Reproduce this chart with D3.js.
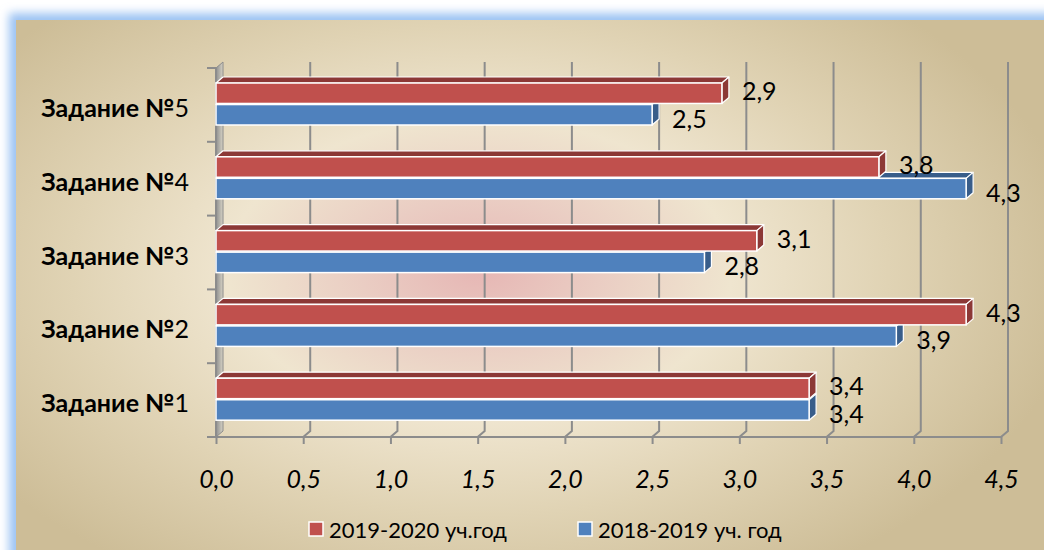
<!DOCTYPE html>
<html>
<head>
<meta charset="utf-8">
<script src="https://cdn.jsdelivr.net/npm/d3@7"></script>
<style>
  body { margin: 0; background: #fff; }
  svg text { font-family: Lato, "Noto Sans", sans-serif; fill: #000; }
</style>
</head>
<body>
<div id="chart"></div>
<script>
// Data
var categories = ["Задание №1", "Задание №2", "Задание №3", "Задание №4", "Задание №5"];
var seriesNames = ["2019-2020 уч.год", "2018-2019 уч. год"];
var values2020 = [3.4, 4.3, 3.1, 3.8, 2.9];
var values2019 = [3.4, 3.9, 2.8, 4.3, 2.5];
var xTicks = [0, 0.5, 1, 1.5, 2, 2.5, 3, 3.5, 4, 4.5];
var seriesColors = ["#c0504d", "#4f81bd"];
var seriesDark = ["#8c3836", "#385d8a"];

var svgWidth = 1044;
var svgHeight = 550;
var depthX = 7, depthY = 6;

var svg = d3.select("#chart")
  .append("svg")
  .attr("width", svgWidth)
  .attr("height", svgHeight);

var defs = svg.append("defs");

// Background gradient
var bg = defs.append("radialGradient")
  .attr("id", "bgGrad")
  .attr("gradientUnits", "userSpaceOnUse")
  .attr("cx", 480).attr("cy", 270).attr("r", 600)
  .attr("gradientTransform", "translate(480,270) scale(1,0.6) translate(-480,-270)");
[["0", "#e6b6b4"], ["0.2", "#eacdc3"], ["0.42", "#efe5cf"], ["0.68", "#e0d3b4"], ["1", "#cdbd97"]]
  .forEach(function(s) { bg.append("stop").attr("offset", s[0]).attr("stop-color", s[1]); });

var blur = defs.append("filter").attr("id", "glow")
  .attr("x", "-10%").attr("y", "-10%").attr("width", "120%").attr("height", "120%");
blur.append("feGaussianBlur").attr("stdDeviation", 5);

var wallGrad = defs.append("linearGradient").attr("id", "wallGrad")
  .attr("x1", 0).attr("x2", 1).attr("y1", 0).attr("y2", 0);
wallGrad.append("stop").attr("offset", 0).attr("stop-color", "#8f8f8f");
wallGrad.append("stop").attr("offset", 1).attr("stop-color", "#d6d2c4");

// Panel with blue glow
svg.append("rect")
  .attr("x", 9).attr("y", 13).attr("width", svgWidth).attr("height", svgHeight)
  .attr("fill", "#9cc3f3")
  .attr("filter", "url(#glow)");
svg.append("rect")
  .attr("x", 16).attr("y", 20).attr("width", svgWidth).attr("height", svgHeight)
  .attr("fill", "url(#bgGrad)");

// Scales
var xScale = d3.scaleLinear().domain([0, 4.5]).range([216, 1001]);
var yScale = d3.scaleBand()
  .domain(categories.slice().reverse())
  .range([68, 437]);
var inner = d3.scaleBand()
  .domain(seriesNames)
  .range([15, 57])
  .paddingInner(0.05);

var locale = d3.formatLocale({ decimal: ",", thousands: " ", grouping: [3], currency: ["", ""] });
var fmt = locale.format(".1f");

var y0 = yScale.range()[0], y1 = yScale.range()[1];

// Back wall gridlines and floor lines
var grid = svg.append("g");
grid.selectAll(".vgrid")
  .data(xTicks.slice(1))
  .enter()
  .append("polyline")
    .attr("points", function(d) {
      var x = xScale(d);
      return [[x + depthX, y0 - depthY], [x + depthX, y1 - depthY], [x, y1]].join(" ");
    })
    .attr("fill", "none")
    .attr("stroke", "#8c8c8c")
    .attr("stroke-width", 2);

// Left wall
svg.append("polygon")
  .attr("points", [[216, y0], [216 + depthX, y0 - depthY], [216 + depthX, y1 - depthY], [216, y1]].join(" "))
  .attr("fill", "url(#wallGrad)")
  .attr("stroke", "#8c8c8c")
  .attr("stroke-width", 1);

// Category ticks on the left
svg.append("g").selectAll("line")
  .data(categories.concat(["end"]))
  .enter()
  .append("line")
    .attr("x1", 207).attr("x2", 216)
    .attr("y1", function(d, i) { return i < categories.length ? yScale(categories[categories.length - 1 - i]) : y1; })
    .attr("y2", function(d, i) { return i < categories.length ? yScale(categories[categories.length - 1 - i]) : y1; })
    .attr("stroke", "#8c8c8c")
    .attr("stroke-width", 2);

// Bottom axis
var bottomAxis = d3.axisBottom(xScale)
  .tickValues(xTicks)
  .tickSize(7)
  .tickFormat(fmt);
var axisG = svg.append("g")
  .attr("transform", "translate(0," + y1 + ")")
  .call(bottomAxis);
axisG.select(".domain").attr("stroke", "#8c8c8c").attr("stroke-width", 2).attr("d", "M216,0H1001");
axisG.selectAll(".tick line").attr("stroke", "#8c8c8c").attr("stroke-width", 2);
axisG.selectAll(".tick text")
  .attr("y", 51)
  .attr("dy", 0)
  .style("font-size", "25px")
  .style("font-style", "italic")
  .style("font-family", "Lato, 'Noto Sans', sans-serif");

// Left axis line
svg.append("line")
  .attr("x1", 216).attr("x2", 216).attr("y1", y0).attr("y2", y1)
  .attr("stroke", "#8c8c8c").attr("stroke-width", 2);

// Bars, bottom to top so upper bars cover the top faces below
var bars = [];
categories.forEach(function(c, i) {
  bars.push({ cat: c, s: 1, v: values2019[i] });
  bars.push({ cat: c, s: 0, v: values2020[i] });
});

var barG = svg.append("g");
bars.forEach(function(b) {
  var top = yScale(b.cat) + inner(seriesNames[b.s]);
  var h = inner.bandwidth();
  var xl = xScale(0), xr = xScale(b.v);
  var g = barG.append("g");
  // top face
  g.append("polygon")
    .attr("points", [[xl, top], [xl + depthX, top - depthY], [xr + depthX, top - depthY], [xr, top]].join(" "))
    .attr("fill", seriesDark[b.s])
    .attr("stroke", "#fff").attr("stroke-width", 1.2).attr("stroke-linejoin", "round");
  // side face
  g.append("polygon")
    .attr("points", [[xr, top], [xr + depthX, top - depthY], [xr + depthX, top + h - depthY], [xr, top + h]].join(" "))
    .attr("fill", seriesDark[b.s])
    .attr("stroke", "#fff").attr("stroke-width", 1.2).attr("stroke-linejoin", "round");
  // front face
  g.append("rect")
    .attr("x", xl).attr("y", top)
    .attr("width", xr - xl).attr("height", h)
    .attr("fill", seriesColors[b.s])
    .attr("stroke", "#fff").attr("stroke-width", 1.5);
});

// Value labels
svg.append("g").selectAll("text")
  .data(bars)
  .enter()
  .append("text")
    .attr("x", function(d) { return xScale(d.v) + 20; })
    .attr("y", function(d) { return yScale(d.cat) + inner(seriesNames[d.s]) + inner.bandwidth() / 2 + (d.s === 0 ? -3 : 3); })
    .attr("dominant-baseline", "central")
    .style("font-size", "25px")
    .text(function(d) { return fmt(d.v); });

// Category labels
var catText = svg.append("g").selectAll("text")
  .data(categories)
  .enter()
  .append("text")
    .attr("x", 189)
    .attr("y", function(d) { return yScale(d) + yScale.bandwidth() / 2 + 2; })
    .attr("text-anchor", "end")
    .attr("dominant-baseline", "central")
    .style("font-size", "25px");
catText.append("tspan").style("font-weight", "bold").text(function(d) { return d.slice(0, -1); });
catText.append("tspan").text(function(d) { return d.slice(-1); });

// Legend
var legendX = [309, 578];
var legend = svg.append("g").selectAll("g")
  .data(seriesNames)
  .enter()
  .append("g")
    .attr("transform", function(d, i) { return "translate(" + legendX[i] + ",522)"; });
legend.append("rect")
  .attr("width", 14).attr("height", 14)
  .attr("fill", function(d, i) { return seriesColors[i]; })
  .attr("stroke", "#fff").attr("stroke-width", 1.5);
legend.append("text")
  .attr("x", 20).attr("y", 7)
  .attr("dominant-baseline", "central")
  .style("font-size", "22px")
  .text(function(d) { return d; });
</script>
</body>
</html>
